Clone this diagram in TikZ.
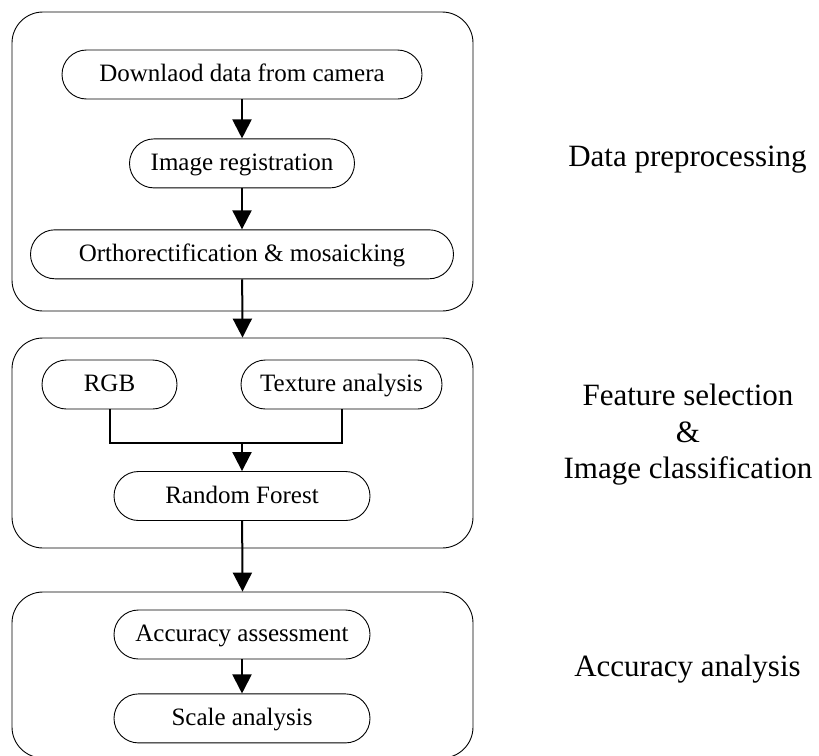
\documentclass[tikz,border=0pt]{standalone}
\usepackage{fontspec}
\setmainfont{Liberation Serif}
\usepackage{tikz}
\usetikzlibrary{arrows.meta, positioning}

\begin{document}
\begin{tikzpicture}[x=1pt, y=-1pt,
        stage/.style={draw, rounded corners=31pt, minimum width=461pt, line width=0.9pt},
        proc/.style={draw, rounded corners=24.5pt, minimum height=49pt, line width=0.9pt,
                     inner sep=0pt, text height=17pt, text depth=3pt,
                     font=\fontsize{25}{30}\selectfont},
        phase/.style={font=\fontsize{31}{36.5}\selectfont, align=center},
        link/.style={line width=2pt},
        arrow/.style={-{Triangle[width=19pt,length=19pt]}, line width=2pt}
      ]
        \useasboundingbox (0,0) rectangle (819,755);

        \node[stage, minimum height=299pt] (prep)  at (242.5,161.5) {};
        \node[stage, minimum height=210pt] (feat)  at (242.5,443)   {};
        \node[stage, minimum height=166pt] (accu)  at (242.5,675)   {};

        \node[proc, minimum width=360pt] (dl)  at (242,74.5) {Downlaod data from camera};
        \node[proc, minimum width=225pt, below=39pt of dl]  (reg)   {Image registration};
        \node[proc, minimum width=423pt, below=41pt of reg] (ortho) {Orthorectification \& mosaicking};

        \node[proc, minimum width=135pt] (rgb) at (109.5,384.5) {RGB};
        \node[proc, minimum width=201pt] (tex) at (341.5,384.5) {Texture analysis};
        \coordinate (join) at (242,443);
        \node[proc, minimum width=256pt] (rf)  at (242,496) {Random Forest};

        \node[proc, minimum width=256pt] (acc) at (242,634.5) {Accuracy assessment};
        \node[proc, minimum width=256pt, below=34pt of acc] (scale) {Scale analysis};

        \node[phase, anchor=base] (lprep) at (687.5,166.7) {Data preprocessing};
        \node[phase] (lfeat) at (688,435) {Feature selection\\\&\\Image classification};
        \node[phase, anchor=base] (laccu) at (687.5,676.7) {Accuracy analysis};

        \draw[arrow] (dl) -- (reg);
        \draw[arrow] (reg) -- (ortho);
        \draw[arrow] (ortho) -- (feat.north);
        \draw[link] (rgb.south) |- (join) -| (tex.south);
        \draw[arrow] (join) -- (rf);
        \draw[arrow] (rf) -- (accu.north);
        \draw[arrow] (acc) -- (scale);
      \end{tikzpicture}
\end{document}
